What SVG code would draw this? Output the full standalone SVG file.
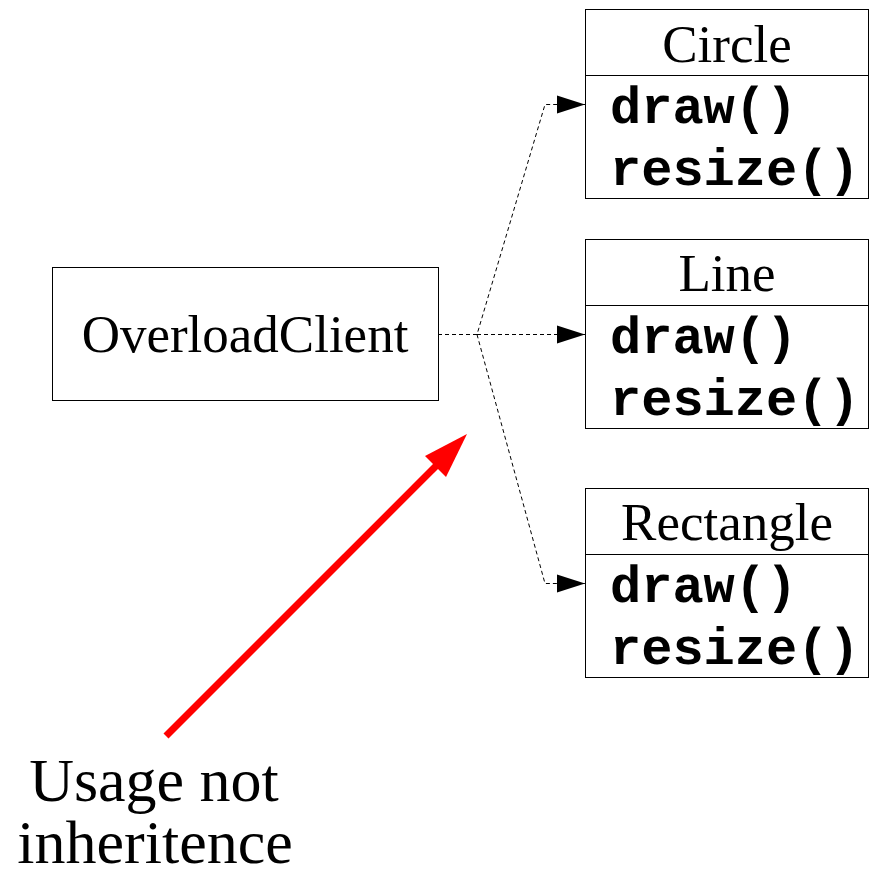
<svg xmlns="http://www.w3.org/2000/svg" width="869" height="877" viewBox="0 0 869 877">
<defs>
<style>
.box{fill:#fff;stroke:#000;stroke-width:1}
.serif{font-family:"Liberation Serif","Times New Roman",serif;fill:#000}
.mono{font-family:"Liberation Mono","Courier New",monospace;font-weight:bold;font-size:52px;fill:#000}
.dash{fill:none;stroke:#000;stroke-width:1;stroke-dasharray:4,3}
</style>
<marker id="ah" markerUnits="userSpaceOnUse" markerWidth="28" markerHeight="20" refX="28" refY="10" orient="auto">
<path d="M0,1 L28,10 L0,19 Z" fill="#000"/>
</marker>
</defs>
<g id="OverloadClient">
<rect class="box" x="52.5" y="267.5" width="386" height="133"/>
<text class="serif" x="245" y="352" font-size="53" text-anchor="middle">OverloadClient</text>
</g>
<g id="Circle">
<rect class="box" x="585.5" y="9.5" width="283" height="189"/>
<line x1="585" y1="75.5" x2="869" y2="75.5" stroke="#000"/>
<text class="serif" x="727" y="62" font-size="53" text-anchor="middle">Circle</text>
<text class="mono" x="610" y="123">draw()</text>
<text class="mono" x="610" y="185">resize()</text>
</g>
<g id="Line">
<rect class="box" x="585.5" y="239.5" width="283" height="189"/>
<line x1="585" y1="305.5" x2="869" y2="305.5" stroke="#000"/>
<text class="serif" x="727" y="291" font-size="53" text-anchor="middle">Line</text>
<text class="mono" x="610" y="353">draw()</text>
<text class="mono" x="610" y="415">resize()</text>
</g>
<g id="Rectangle">
<rect class="box" x="585.5" y="488.5" width="283" height="189"/>
<line x1="585" y1="554.5" x2="869" y2="554.5" stroke="#000"/>
<text class="serif" x="727" y="540" font-size="53" text-anchor="middle">Rectangle</text>
<text class="mono" x="610" y="602">draw()</text>
<text class="mono" x="610" y="664">resize()</text>
</g>
<g id="connectors">
<path class="dash" d="M438,334.5 L477,334.5 L545,104.5 L585,104.5" marker-end="url(#ah)"/>
<path class="dash" d="M477,334.5 L585,334.5" marker-end="url(#ah)"/>
<path class="dash" d="M477,334.5 L545,583.5 L585,583.5" marker-end="url(#ah)"/>
</g>
<g id="note">
<line x1="166" y1="736" x2="437" y2="465" stroke="#f00" stroke-width="7"/>
<path d="M467,434 L425,456 L446,477 Z" fill="#f00"/>
<text class="serif" font-size="62" text-anchor="middle"><tspan x="154" y="801">Usage not</tspan><tspan x="155" y="863">inheritence</tspan></text>
</g>
</svg>
